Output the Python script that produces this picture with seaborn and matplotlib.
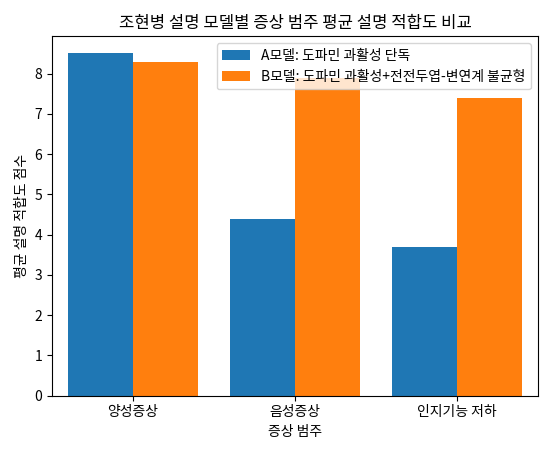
import matplotlib
matplotlib.use("Agg")
import matplotlib.pyplot as plt
import seaborn as sns
import pandas as pd

categories = ["양성증상", "음성증상", "인지기능 저하"]
model_a = [8.5, 4.4, 3.7]
model_b = [8.3, 7.9, 7.4]
series = ["A모델: 도파민 과활성 단독", "B모델: 도파민 과활성+전전두엽-변연계 불균형"]

plt.rcParams['font.family'] = ['Noto Sans CJK KR', 'DejaVu Sans']
plt.rcParams['axes.unicode_minus'] = False

df = pd.DataFrame({
    "cat": categories * 2,
    "val": model_a + model_b,
    "model": [series[0]] * 3 + [series[1]] * 3,
})

fig, ax = plt.subplots(figsize=(5.53, 4.54), dpi=100)
sns.barplot(data=df, x="cat", y="val", hue="model", palette=["#1f77b4", "#ff7f0e"],
            width=0.8, gap=0, saturation=1, errorbar=None, ax=ax)
ax.set_title("조현병 설명 모델별 증상 범주 평균 설명 적합도 비교")
ax.set_xlabel("증상 범주")
ax.set_ylabel("평균 설명 적합도 점수")
ax.set_ylim(0, 8.925)
ax.legend(title=None, loc="upper right")
fig.tight_layout()
fig.savefig("out.png", dpi=100)
